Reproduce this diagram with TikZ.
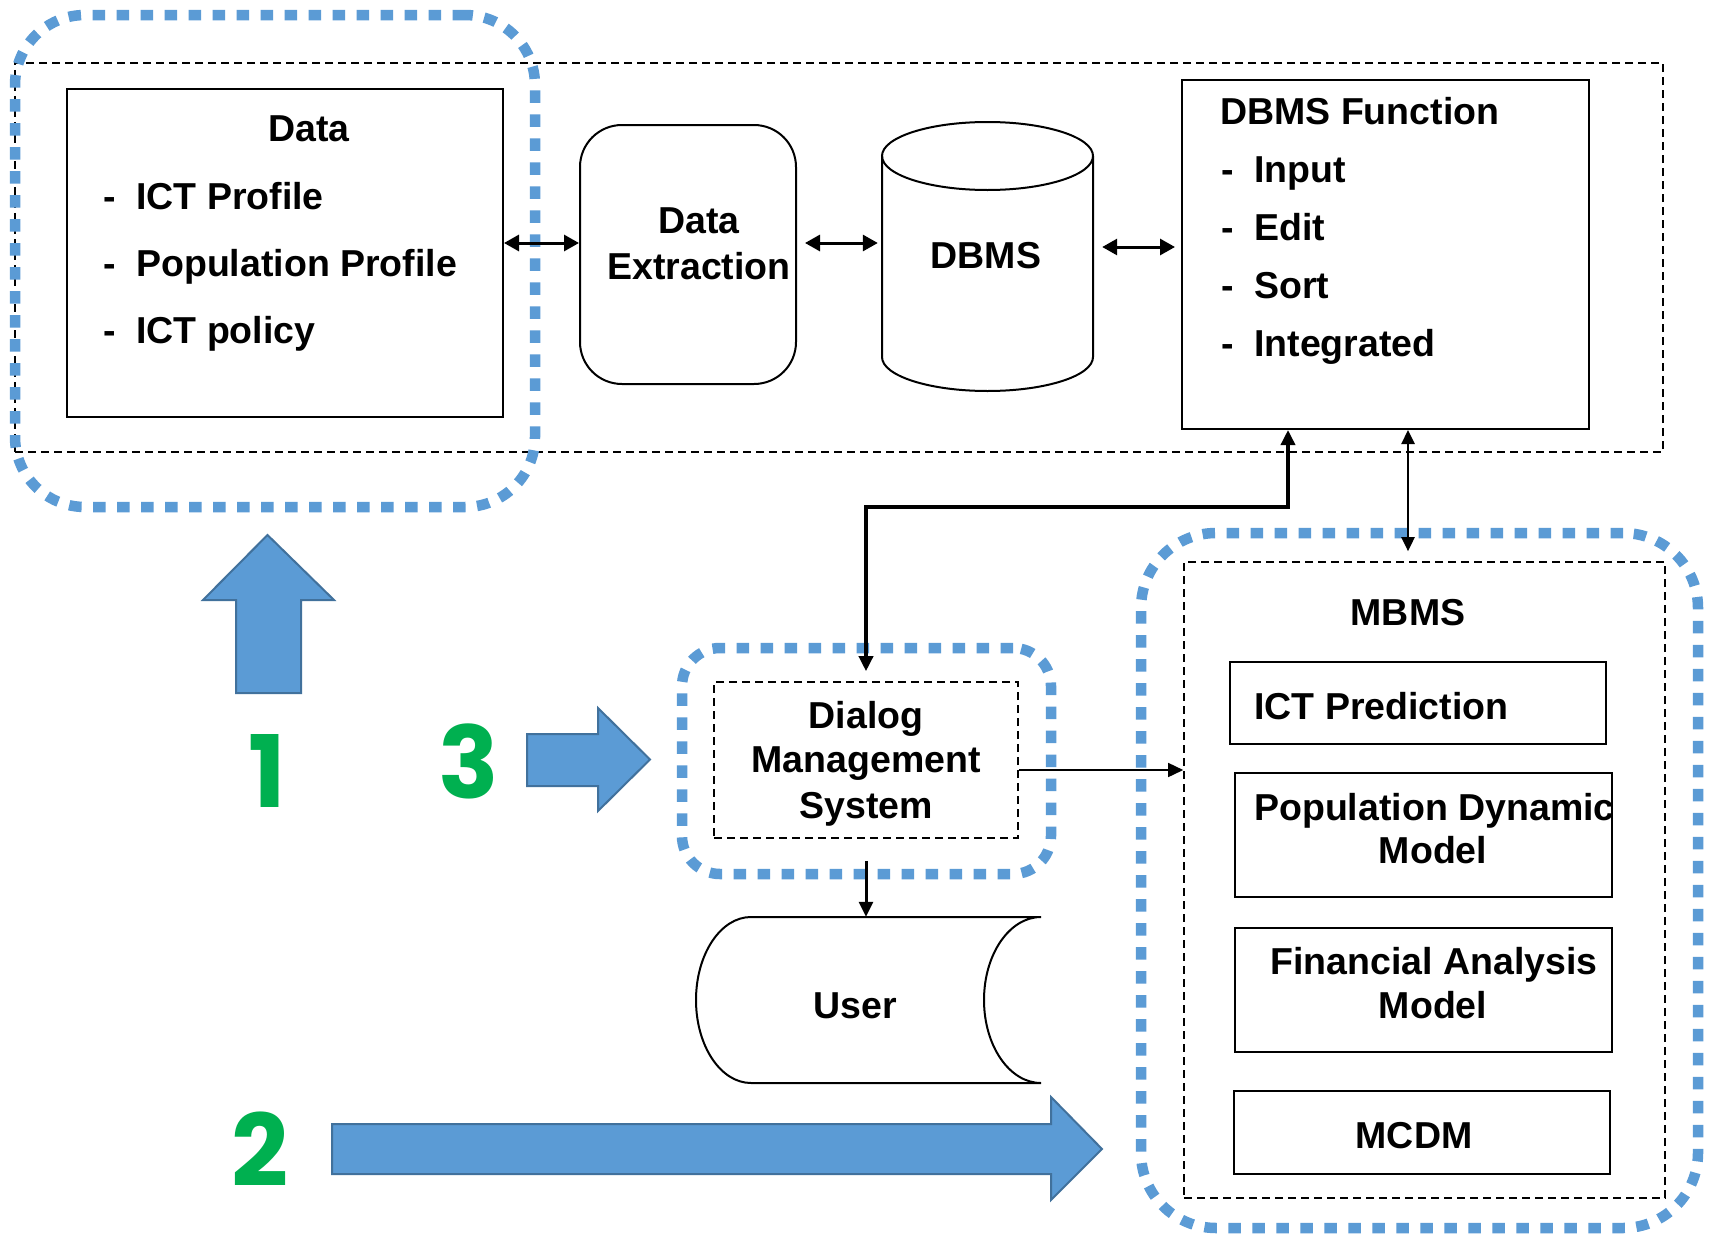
\documentclass[tikz,border=0pt]{standalone}
\usepackage{fontspec}
\setmainfont{Liberation Sans}
\newfontfamily\numfont{Poppins}
\usetikzlibrary{arrows.meta,calc}
\definecolor{dotblue}{HTML}{5B9BD5}
\definecolor{arrowfill}{HTML}{5B9BD5}
\definecolor{arrowedge}{HTML}{41719C}
\definecolor{numgreen}{HTML}{00B050}
\tikzset{
  box/.style={draw, line width=2pt, inner sep=0pt},
  dashbox/.style={draw, line width=1.6pt, dash pattern=on 8pt off 5pt, inner sep=0pt},
  bluedot/.style={draw=dotblue, line width=10.5pt, dash pattern=on 12.5pt off 11.5pt, inner sep=0pt},
  ghost/.style={inner sep=0pt},
  txt/.style={font=\bfseries\fontsize{37.5}{44}\selectfont, inner sep=0pt},
  numtxt/.style={font=\numfont\bfseries\fontsize{100}{100}\selectfont, text=numgreen, inner sep=0pt},
  bigarrow/.style={fill=arrowfill, draw=arrowedge, line width=2pt, line join=miter},
  biarrow/.style={line width=3pt, {Triangle[length=15pt,width=16pt]}-{Triangle[length=15pt,width=16pt]}},
}
\begin{document}
\begin{tikzpicture}[x=1pt,y=-1pt]
\useasboundingbox (0,0) rectangle (1719,1234);
\fill[white] (0,0) rectangle (1719,1234);

% ---------- group frames ----------
\node[dashbox, minimum width=1648pt, minimum height=389pt] (frame) at (839,257.5) {};
\node[bluedot, rounded corners=70pt, minimum width=520pt, minimum height=492pt] (grp1) at (275,261) {};
\node[bluedot, rounded corners=38pt, minimum width=369pt, minimum height=226pt] (grp3) at (866.5,761) {};
\node[bluedot, rounded corners=75pt, minimum width=557pt, minimum height=695pt] (grp2) at (1419.5,880.5) {};

% ---------- top row ----------
\node[box, minimum width=436pt, minimum height=328pt] (databox) at (285,253) {};
\node[txt, anchor=base] (tdata) at (309,141) {Data};
\node[txt, anchor=base west] (d1) at (103,209) {-};
\node[txt, anchor=base west] (t1) at (136,209) {ICT Profile};
\node[txt, anchor=base west] (d2) at (103,276) {-};
\node[txt, anchor=base west] (t2) at (136,276) {Population Profile};
\node[txt, anchor=base west] (d3) at (103,343) {-};
\node[txt, anchor=base west] (t3) at (136,343) {ICT policy};

\node[box, rounded corners=42pt, minimum width=216pt, minimum height=259pt] (extract) at (688,254.5) {};
\node[txt, anchor=base] (te1) at (699,233) {Data};
\node[txt, anchor=base] (te2) at (699,279) {Extraction};

\node[ghost, minimum width=211pt, minimum height=269pt] (dbms) at (987.5,257) {};
\draw[line width=2pt] (882,156) -- (882,357) arc[start angle=180, end angle=360, x radius=105.5pt, y radius=34pt] -- (1093,156);
\draw[line width=2pt] (987.5,156) ellipse [x radius=105.5pt, y radius=34pt];
\node[txt, anchor=base] (tdbms) at (986,268) {DBMS};

\node[box, minimum width=407pt, minimum height=349pt] (func) at (1385.5,254.5) {};
\node[txt, anchor=base west] (tf) at (1220,124) {DBMS Function};
\node[txt, anchor=base west] (fd1) at (1221,182) {-};
\node[txt, anchor=base west] (f1) at (1254,182) {Input};
\node[txt, anchor=base west] (fd2) at (1221,240) {-};
\node[txt, anchor=base west] (f2) at (1254,240) {Edit};
\node[txt, anchor=base west] (fd3) at (1221,298) {-};
\node[txt, anchor=base west] (f3) at (1254,298) {Sort};
\node[txt, anchor=base west] (fd4) at (1221,356) {-};
\node[txt, anchor=base west] (f4) at (1254,356) {Integrated};

% ---------- dialog & user ----------
\node[dashbox, minimum width=304pt, minimum height=156pt] (dms) at (866,760) {};
\node[txt, anchor=base] (tdms1) at (866,728.5) {Dialog};
\node[txt, anchor=base] (tdms2) at (866,772.5) {Management};
\node[txt, anchor=base] (tdms3) at (866,818) {System};

\node[ghost, minimum width=345pt, minimum height=166pt] (user) at (868.5,1000) {};
\draw[line width=2pt] (1041,917) -- (751,917) arc[start angle=90, end angle=270, x radius=55pt, y radius=83pt] -- (1041,1083) arc[start angle=270, end angle=90, x radius=57pt, y radius=83pt];
\node[txt, anchor=base] (tuser) at (855,1018) {User};

% ---------- MBMS ----------
\node[dashbox, minimum width=481pt, minimum height=636pt] (mbms) at (1424.5,880) {};
\node[txt, anchor=base] (tmbms) at (1408,625.5) {MBMS};
\node[box, minimum width=376pt, minimum height=82pt] (ictp) at (1418,703) {};
\node[txt, anchor=base west] (tictp) at (1254,719) {ICT Prediction};
\node[box, minimum width=377pt, minimum height=124pt] (popd) at (1423.5,835) {};
\node[txt, anchor=base west] (tpop1) at (1254,820) {Population Dynamic};
\node[txt, anchor=base] (tpop2) at (1433,863) {Model};
\node[box, minimum width=377pt, minimum height=124pt] (fin) at (1423.5,990) {};
\node[txt, anchor=base] (tfin1) at (1434,974) {Financial Analysis};
\node[txt, anchor=base] (tfin2) at (1433,1018.5) {Model};
\node[box, minimum width=376pt, minimum height=83pt] (mcdm) at (1422,1132.5) {};
\node[txt, anchor=base] (tmcdm) at (1414,1148) {MCDM};

% ---------- connectors ----------
\draw[biarrow] (databox.east |- 0,243) -- (extract.west |- 0,243);
\draw[biarrow, shorten <=8pt, shorten >=4pt] (extract.east |- 0,243) -- (dbms.west |- 0,243);
\draw[biarrow, shorten <=9pt, shorten >=6pt] (dbms.east |- 0,247) -- (func.west |- 0,247);
\draw[line width=3.5pt, {Triangle[length=15pt,width=14pt]}-{Triangle[length=15pt,width=14pt]}]
  (func.south -| 1288,0) -- (1288,507) -| ($(dms.north)+(0,-10)$);
\draw[line width=2.5pt, {Triangle[length=14pt,width=13pt]}-{Triangle[length=14pt,width=13pt]}, shorten >=10pt]
  (func.south -| 1408,0) -- (mbms.north -| 1408,0);
\draw[line width=1.6pt, -{Triangle[length=15pt,width=14pt]}] (dms.east |- 0,770) -- (mbms.west |- 0,770);
\draw[line width=3pt, -{Triangle[length=15pt,width=14pt]}, shorten <=22pt] (dms.south) -- (user.north -| dms.south);

% ---------- blue block arrows and numbers ----------
\draw[bigarrow] (236,693) -- (236,600) -- (203,600) -- (267.5,535) -- (334,600) -- (301,600) -- (301,693) -- cycle;
\draw[bigarrow] (527,734) -- (598,734) -- (598,708) -- (650,759.5) -- (598,811) -- (598,786) -- (527,786) -- cycle;
\draw[bigarrow] (332,1124) -- (1051,1124) -- (1051,1097) -- (1102,1149) -- (1051,1200) -- (1051,1174) -- (332,1174) -- cycle;
\node[numtxt, anchor=base] (n1) at (267,807) {1};
\node[numtxt, anchor=base] (n3) at (469,798) {3};
\node[numtxt, anchor=base] (n2) at (260,1186) {2};
\end{tikzpicture}
\end{document}
